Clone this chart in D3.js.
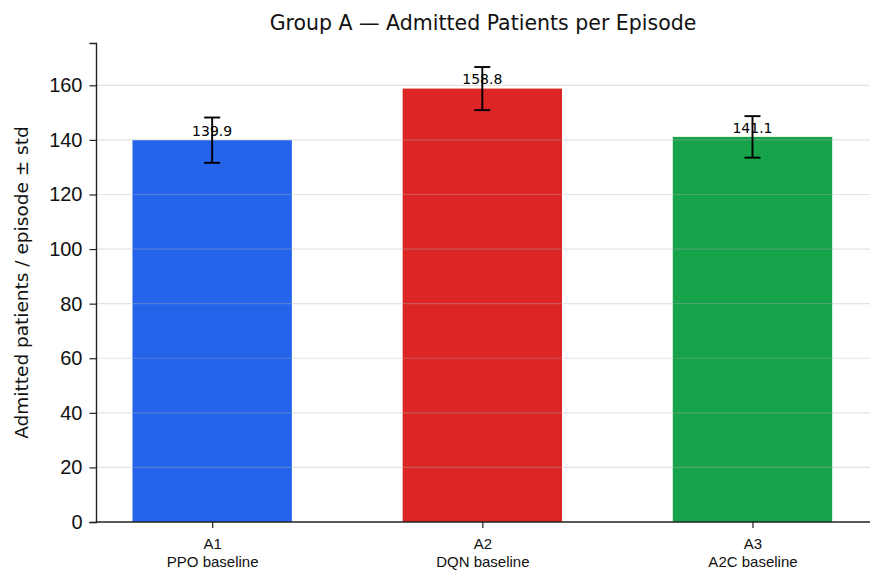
<!DOCTYPE html>
<html>
<head>
<meta charset="utf-8">
<script src="https://cdn.jsdelivr.net/npm/d3@7"></script>
<style>
  body { margin: 0; background: #fff; }
  svg { font-family: "DejaVu Sans", sans-serif; }
</style>
</head>
<body>
<div id="viz"></div>
<script>
const WIDTH = 884, HEIGHT = 584;

// data
const groups = ["A1", "A2", "A3"];
const labels = ["PPO baseline", "DQN baseline", "A2C baseline"];
const means = [139.9, 158.8, 141.1];
const stds = [8.3, 7.9, 7.6];
const colors = ["#2563eb", "#dc2626", "#16a34a"];
const yTicks = [0, 20, 40, 60, 80, 100, 120, 140, 160];

const margin = { top: 43, right: 14, bottom: 62, left: 96 };
const iw = WIDTH - margin.left - margin.right;
const ih = HEIGHT - margin.top - margin.bottom;

const svg = d3.select("#viz").append("svg")
  .attr("width", WIDTH)
  .attr("height", HEIGHT);

const g = svg.append("g").attr("transform", `translate(${margin.left},${margin.top})`);

// categorical positions 0..2, bar width ~0.6, matplotlib-like margins
const x = d3.scaleLinear().domain([-0.43, 2.435]).range([0, iw]);
const y = d3.scaleLinear().domain([0, 175.5]).range([ih, 0]);
const bw = x(0.295) - x(-0.295);

const data = groups.map((k, i) => ({ k, label: labels[i], mean: means[i], std: stds[i], color: colors[i], i }));

// bars
g.selectAll(".bar")
  .data(data)
  .join("rect")
  .attr("class", "bar")
  .attr("x", d => x(d.i) - bw / 2)
  .attr("width", bw)
  .attr("y", d => y(d.mean))
  .attr("height", d => y(0) - y(d.mean))
  .attr("fill", d => d.color);

// grid on top of bars, semi transparent
g.selectAll(".grid")
  .data(yTicks.slice(1))
  .join("line")
  .attr("class", "grid")
  .attr("x1", 0).attr("x2", iw)
  .attr("y1", d => y(d)).attr("y2", d => y(d))
  .attr("stroke", "#b0b0b0")
  .attr("stroke-opacity", 0.35)
  .attr("stroke-width", 1.2);

// error bars
const err = g.selectAll(".err").data(data).join("g").attr("class", "err");
err.append("line")
  .attr("x1", d => x(d.i)).attr("x2", d => x(d.i))
  .attr("y1", d => y(d.mean - d.std)).attr("y2", d => y(d.mean + d.std))
  .attr("stroke", "#000").attr("stroke-width", 1.9);
err.selectAll(".cap")
  .data(d => [d.mean - d.std, d.mean + d.std].map(v => ({ v, i: d.i })))
  .join("line")
  .attr("x1", d => x(d.i) - 8).attr("x2", d => x(d.i) + 8)
  .attr("y1", d => y(d.v)).attr("y2", d => y(d.v))
  .attr("stroke", "#000").attr("stroke-width", 1.9);

// value labels
g.selectAll(".val")
  .data(data)
  .join("text")
  .attr("x", d => x(d.i))
  .attr("y", d => y(d.mean + 1.6))
  .attr("text-anchor", "middle")
  .style("font-size", "14px")
  .text(d => d.mean.toFixed(1));

// y axis
const yAxis = g.append("g")
  .call(d3.axisLeft(y).tickValues(yTicks).tickSize(6.5).tickPadding(7));
yAxis.select(".domain").attr("stroke", "#222").attr("stroke-width", 1.4);
yAxis.selectAll(".tick line").attr("stroke", "#222").attr("stroke-width", 1.2);
yAxis.selectAll(".tick text").style("font-size", "20px").attr("fill", "#111");

// x axis
const xAxis = g.append("g")
  .attr("transform", `translate(0,${ih})`)
  .call(d3.axisBottom(x).tickValues([0, 1, 2]).tickSize(6).tickFormat(""));
xAxis.select(".domain").attr("stroke", "#222").attr("stroke-width", 1.4)
  .attr("d", `M0,0H${iw}`);
xAxis.selectAll(".tick line").attr("stroke", "#222").attr("stroke-width", 1.2);
xAxis.selectAll(".tick").each(function(t) {
  const d = data[t];
  const txt = d3.select(this).append("text")
    .attr("text-anchor", "middle")
    .attr("fill", "#111")
    .style("font-size", "15px");
  txt.append("tspan").attr("x", 0).attr("y", 27).text(d.k);
  txt.append("tspan").attr("x", 0).attr("y", 45).text(d.label);
});

// title
svg.append("text")
  .attr("x", margin.left + iw / 2)
  .attr("y", 30)
  .attr("text-anchor", "middle")
  .style("font-size", "20.5px")
  .attr("fill", "#111")
  .text("Group A — Admitted Patients per Episode");

// y label
svg.append("text")
  .attr("transform", `translate(28,${margin.top + ih / 2}) rotate(-90)`)
  .attr("text-anchor", "middle")
  .style("font-size", "18.5px")
  .attr("fill", "#111")
  .text("Admitted patients / episode ± std");
</script>
</body>
</html>
